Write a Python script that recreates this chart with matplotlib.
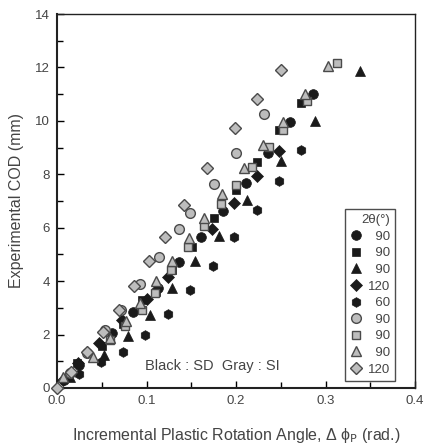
import matplotlib
matplotlib.use("Agg")
import matplotlib.pyplot as plt
from matplotlib.ticker import MultipleLocator, FormatStrFormatter
from matplotlib.lines import Line2D

plt.rcParams['font.family'] = ['Liberation Sans', 'DejaVu Sans']

# ---- data ----
sd_circle_x = [0.008, 0.025, 0.062, 0.085, 0.113, 0.136, 0.161, 0.186, 0.211, 0.236, 0.260, 0.286]
sd_circle_y = [0.30, 0.86, 2.05, 2.86, 3.74, 4.72, 5.65, 6.61, 7.68, 8.80, 9.96, 11.01]

sd_square_x = [0.022, 0.050, 0.074, 0.095, 0.111, 0.128, 0.151, 0.175, 0.200, 0.224, 0.248, 0.273]
sd_square_y = [0.95, 1.57, 2.40, 3.30, 3.59, 4.42, 5.26, 6.36, 7.42, 8.45, 9.65, 10.67]

sd_tri_x = [0.015, 0.053, 0.079, 0.104, 0.129, 0.154, 0.181, 0.212, 0.250, 0.288, 0.339]
sd_tri_y = [0.42, 1.24, 1.95, 2.74, 3.76, 4.76, 5.70, 7.05, 8.49, 9.99, 11.86]

sd_diam_x = [0.007, 0.024, 0.047, 0.073, 0.100, 0.124, 0.173, 0.198, 0.223, 0.248]
sd_diam_y = [0.30, 0.93, 1.70, 2.55, 3.34, 4.15, 5.95, 6.92, 7.92, 8.89]

sd_hex_x = [0.025, 0.049, 0.074, 0.098, 0.124, 0.149, 0.174, 0.198, 0.223, 0.248, 0.273]
sd_hex_y = [0.52, 0.99, 1.36, 1.99, 2.76, 3.67, 4.55, 5.65, 6.65, 7.74, 8.92]

si_circle_x = [0.015, 0.033, 0.054, 0.071, 0.093, 0.114, 0.136, 0.149, 0.175, 0.200, 0.231]
si_circle_y = [0.55, 1.30, 2.17, 2.92, 3.90, 4.89, 5.96, 6.55, 7.65, 8.80, 10.24]

si_square_x = [0.059, 0.076, 0.095, 0.110, 0.127, 0.146, 0.164, 0.183, 0.200, 0.218, 0.237, 0.253, 0.279, 0.313]
si_square_y = [1.80, 2.32, 2.92, 3.55, 4.42, 5.26, 6.05, 6.90, 7.61, 8.26, 9.02, 9.64, 10.76, 12.17]

si_tri_x = [0.007, 0.040, 0.059, 0.077, 0.093, 0.111, 0.128, 0.147, 0.164, 0.184, 0.209, 0.230, 0.252, 0.277, 0.303]
si_tri_y = [0.42, 1.17, 1.86, 2.49, 3.18, 3.99, 4.77, 5.61, 6.36, 7.26, 8.24, 9.08, 9.95, 11.01, 12.07]

si_diam_x = [0.0, 0.016, 0.034, 0.051, 0.069, 0.086, 0.103, 0.121, 0.142, 0.168, 0.199, 0.224, 0.250]
si_diam_y = [0.0, 0.61, 1.34, 2.11, 2.92, 3.80, 4.74, 5.67, 6.84, 8.24, 9.74, 10.82, 11.89]

legend_labels = ['90', '90', '90', '120', '60', '90', '90', '90', '120']

# ---- figure ----
fig = plt.figure(figsize=(4.39, 4.46), dpi=100)
ax = fig.add_axes([57/439, 1-388/446, (415-57)/439, (388-14)/446])

BLACK = '#1a1a1a'
GRAY = '#bdbdbd'
EDGE = '#4a4a4a'
ms = 7

black_series = [
    (sd_circle_x, sd_circle_y, 'o', ms),
    (sd_square_x, sd_square_y, 's', ms - 0.8),
    (sd_tri_x, sd_tri_y, '^', ms),
    (sd_diam_x, sd_diam_y, 'D', ms - 1),
    (sd_hex_x, sd_hex_y, 'h', ms),
]
gray_series = [
    (si_circle_x, si_circle_y, 'o', ms),
    (si_square_x, si_square_y, 's', ms - 0.8),
    (si_tri_x, si_tri_y, '^', ms),
    (si_diam_x, si_diam_y, 'D', ms - 1),
]

handles = []
for x, y, m, s in black_series:
    ax.plot(x, y, linestyle='none', marker=m, markersize=s, markerfacecolor=BLACK,
            markeredgecolor=BLACK, markeredgewidth=0.5, clip_on=False, zorder=3)
    handles.append(Line2D([], [], linestyle='none', marker=m, markersize=s,
                          markerfacecolor=BLACK, markeredgecolor=BLACK, markeredgewidth=0.5))
for x, y, m, s in gray_series:
    ax.plot(x, y, linestyle='none', marker=m, markersize=s, markerfacecolor=GRAY,
            markeredgecolor=EDGE, markeredgewidth=1.0, clip_on=False, zorder=4)
    handles.append(Line2D([], [], linestyle='none', marker=m, markersize=s,
                          markerfacecolor=GRAY, markeredgecolor=EDGE, markeredgewidth=1.0))

ax.set_xlim(0, 0.4)
ax.set_ylim(0, 14)
ax.xaxis.set_major_locator(MultipleLocator(0.1))
ax.xaxis.set_minor_locator(MultipleLocator(0.05))
ax.yaxis.set_major_locator(MultipleLocator(2))
ax.yaxis.set_minor_locator(MultipleLocator(1))
ax.xaxis.set_major_formatter(FormatStrFormatter('%.1f'))
ax.yaxis.set_major_formatter(FormatStrFormatter('%d'))

TXT = '#444444'
ax.tick_params(which='both', direction='in', top=False, right=False,
               colors='black', labelcolor=TXT, labelsize=9.5, width=1.0)
ax.tick_params(which='major', length=5, pad=5)
ax.tick_params(which='minor', length=4)
for sp in ax.spines.values():
    sp.set_linewidth(1.0)
    sp.set_color('#222222')
ax.spines['left'].set_linewidth(1.5)
ax.spines['bottom'].set_linewidth(1.5)

ax.set_ylabel('Experimental COD (mm)', fontsize=11.5, color=TXT, labelpad=8)
ax.set_xlabel('Incremental Plastic Rotation Angle, Δ ϕ$_{\\mathrm{P}}$ (rad.)',
              fontsize=11.5, color=TXT, labelpad=14)

ax.text(0.098, 0.82, 'Black : SD  Gray : SI', fontsize=10.5, color=TXT,
        va='center', ha='left')

padded = [lbl.rjust(3, '\u2007') for lbl in legend_labels]
leg = ax.legend(handles, padded, title='2θ(°)', loc='lower right',
                bbox_to_anchor=(0.952, 0.012), frameon=True, fancybox=False,
                edgecolor='#222222', fontsize=9.5, title_fontsize=9.5,
                handlelength=0.8, handletextpad=0.5, labelspacing=0.33,
                borderpad=0.4, borderaxespad=0.2, markerfirst=True)
leg.get_frame().set_linewidth(1.0)
leg._legend_box.align = 'right'
for t in leg.get_texts():
    t.set_color(TXT)
leg.get_title().set_color(TXT)

fig.savefig('out.png', dpi=100)
